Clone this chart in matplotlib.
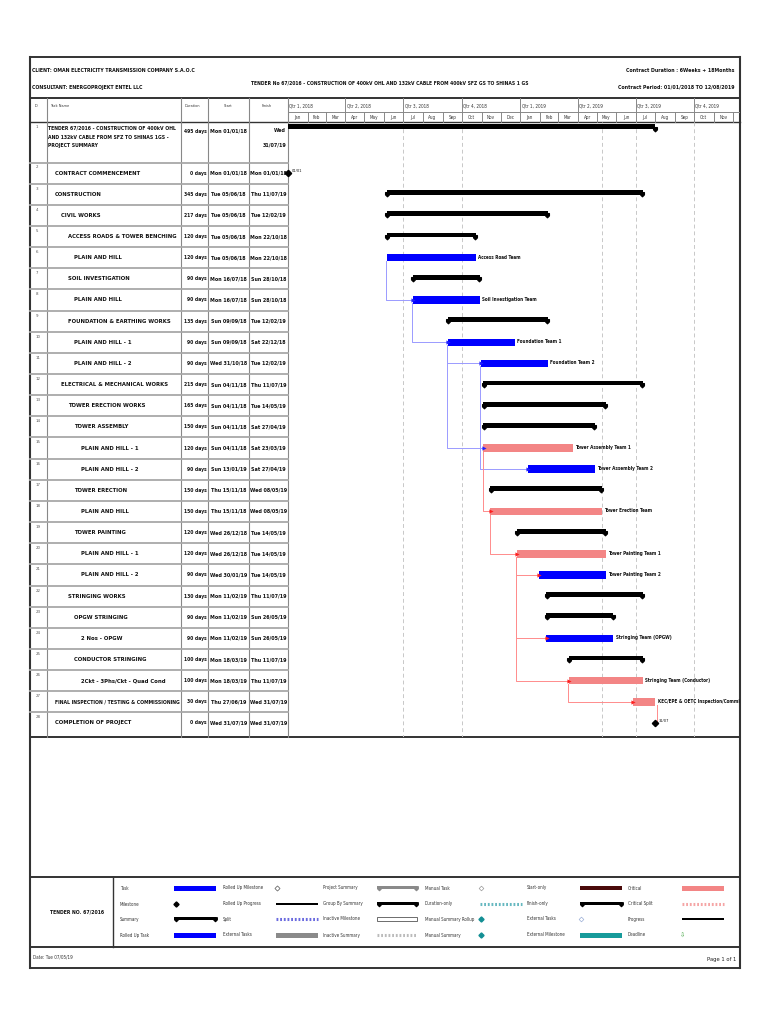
import matplotlib
matplotlib.use('Agg')
import matplotlib.pyplot as plt
import matplotlib.dates as mdates
from matplotlib.patches import Rectangle
from matplotlib.path import Path
from matplotlib import font_manager as fm
from datetime import date, timedelta

# ---- data ----
task_names = [
    "TENDER 67/2016 - CONSTRUCTION OF 400kV OHL\nAND 132kV CABLE FROM SFZ TO SHINAS 1GS -\nPROJECT SUMMARY",
    "CONTRACT COMMENCEMENT", "CONSTRUCTION", "CIVIL WORKS",
    "ACCESS ROADS & TOWER BENCHING", "PLAIN AND HILL", "SOIL INVESTIGATION",
    "PLAIN AND HILL", "FOUNDATION & EARTHING WORKS", "PLAIN AND HILL - 1",
    "PLAIN AND HILL - 2", "ELECTRICAL & MECHANICAL WORKS", "TOWER ERECTION WORKS",
    "TOWER ASSEMBLY", "PLAIN AND HILL - 1", "PLAIN AND HILL - 2", "TOWER ERECTION",
    "PLAIN AND HILL", "TOWER PAINTING", "PLAIN AND HILL - 1", "PLAIN AND HILL - 2",
    "STRINGING WORKS", "OPGW STRINGING", "2 Nos - OPGW", "CONDUCTOR STRINGING",
    "2Ckt - 3Phs/Ckt - Quad Cond", "FINAL INSPECTION / TESTING & COMMISSIONING",
    "COMPLETION OF PROJECT",
]
outline_level = [0, 1, 1, 2, 3, 4, 3, 4, 3, 4, 4, 2, 3, 4, 5, 5, 4, 5, 4, 5, 5, 3, 4, 5, 4, 5, 1, 1]
durations = ["495 days", "0 days", "345 days", "217 days", "120 days", "120 days", "90 days",
             "90 days", "135 days", "90 days", "90 days", "215 days", "165 days", "150 days",
             "120 days", "90 days", "150 days", "150 days", "120 days", "120 days", "90 days",
             "130 days", "90 days", "90 days", "100 days", "100 days", "30 days", "0 days"]
start_dates = ["2018-01-01", "2018-01-01", "2018-06-05", "2018-06-05", "2018-06-05", "2018-06-05",
               "2018-07-16", "2018-07-16", "2018-09-09", "2018-09-09", "2018-10-31", "2018-11-04",
               "2018-11-04", "2018-11-04", "2018-11-04", "2019-01-13", "2018-11-15", "2018-11-15",
               "2018-12-26", "2018-12-26", "2019-01-30", "2019-02-11", "2019-02-11", "2019-02-11",
               "2019-03-18", "2019-03-18", "2019-06-27", "2019-07-31"]
finish_dates = ["2019-07-31", "2018-01-01", "2019-07-11", "2019-02-12", "2018-10-22", "2018-10-22",
                "2018-10-28", "2018-10-28", "2019-02-12", "2018-12-22", "2019-02-12", "2019-07-11",
                "2019-05-14", "2019-04-27", "2019-03-23", "2019-04-27", "2019-05-08", "2019-05-08",
                "2019-05-14", "2019-05-14", "2019-05-14", "2019-07-11", "2019-05-26", "2019-05-26",
                "2019-07-11", "2019-07-11", "2019-07-31", "2019-07-31"]
bar_kind = ["project", "milestone", "summary", "summary", "summary", "task", "summary", "task",
            "summary", "task", "task", "summary", "summary", "summary", "critical", "task",
            "summary", "critical", "summary", "critical", "task", "summary", "summary", "task",
            "summary", "critical", "critical", "milestone"]
resources = {6: "Access Road Team", 8: "Soil Investigation Team", 10: "Foundation Team 1",
             11: "Foundation Team 2", 15: "Tower Assembly Team 1", 16: "Tower Assembly Team 2",
             18: "Tower Erection Team", 20: "Tower Painting Team 1", 21: "Tower Painting Team 2",
             24: "Stringing Team (OPGW)", 26: "Stringing Team (Conductor)",
             27: "KEC/EPE & OETC Inspection/Commissioning"}
milestone_labels = {2: "01/01", 28: "31/07"}
# (predecessor, successor, critical)
links = [(6, 8, False), (8, 10, False), (10, 11, False), (10, 15, False), (11, 16, False),
         (15, 18, True), (18, 20, True), (20, 21, True), (20, 24, True), (20, 26, True),
         (26, 27, True), (27, 28, True)]
grid_dates = ["2018-07-01", "2018-10-01", "2019-05-10", "2019-07-01", "2019-10-01"]
view_start, view_end = "2018-01-01", "2019-12-12"

title_text = "TENDER No 67/2016 - CONSTRUCTION OF 400kV OHL AND 132kV CABLE FROM 400kV SFZ GS TO SHINAS 1 GS"
legend_items = [
    ["Task", "Milestone", "Summary", "Rolled Up Task"],
    ["Rolled Up Milestone", "Rolled Up Progress", "Split", "External Tasks"],
    ["Project Summary", "Group By Summary", "Inactive Milestone", "Inactive Summary"],
    ["Manual Task", "Duration-only", "Manual Summary Rollup", "Manual Summary"],
    ["Start-only", "Finish-only", "External Tasks", "External Milestone"],
    ["Critical", "Critical Split", "Progress", "Deadline"],
]


def d(s):
    return date.fromisoformat(s)


# pick a narrow face if one is installed
def pick_font(bold):
    for f in fm.fontManager.ttflist:
        w = fm.weight_dict.get(f.weight, f.weight) if isinstance(f.weight, str) else f.weight
        narrow = ('Narrow' in f.name or 'Condensed' in f.name
                  or f.stretch in ('condensed', 'semi-condensed', 'extra-condensed'))
        if narrow and f.style == 'normal' and ((w >= 600) == bold):
            return fm.FontProperties(fname=f.fname)
    return fm.FontProperties(family='Liberation Sans', weight='bold' if bold else 'normal')


FB = pick_font(True)
FR = pick_font(False)

BLUE = '#0000ff'
CRIT = '#f38585'
FRAME = '#333333'
INK = '#111111'

fig = plt.figure(figsize=(7.68, 10.24), dpi=100)
ax = fig.add_axes([0, 0, 1, 1])
ax.set_xlim(0, 768)
ax.set_ylim(1024, 0)
ax.axis('off')
renderer = fig.canvas.get_renderer()


def fit(s, target_px, fp):
    t = ax.text(0, 0, s, fontproperties=fp, fontsize=10)
    w = t.get_window_extent(renderer).width
    t.remove()
    return 10 * target_px / w


S_HEAD = fit("CLIENT: OMAN ELECTRICITY TRANSMISSION COMPANY S.A.O.C", 166, FB)
S_TITLE = fit(title_text, 275, FB)
S_NAME = fit("ACCESS ROADS & TOWER BENCHING", 108, FB)
S_NAME1 = fit("TENDER 67/2016 - CONSTRUCTION OF 400kV OHL", 128, FB)
S_DUR = fit("345 days", 23, FB)
S_DATE = fit("Mon 01/01/18", 37, FB)
S_RES = fit("Access Road Team", 43, FB)
S_SCALE = fit("Qtr 1, 2018", 24, FR)
S_COLH = fit("Task Name", 19, FR)
S_LEG = fit("Rolled Up Milestone", 40, FR)
S_TNO = fit("TENDER NO. 67/2016", 54, FB)

L, R, T, B = 30, 740, 57, 968
HDR_B, COL_B, TBL_B = 98, 122, 737
LEG_T, LEG_B = 877, 947
cols = [47, 181, 208, 249, 288]

# row geometry (pixel)
row_top = [122] + [162.5 + (k - 2) * 21.15 for k in range(2, 29)]
row_bot = [162.5] + [162.5 + (k - 1) * 21.15 for k in range(2, 29)]
row_mid = [(a + b) / 2 for a, b in zip(row_top, row_bot)]

# ---- frame ----
for y in [T, HDR_B, COL_B, TBL_B, LEG_T, LEG_B, B]:
    ax.plot([L, R], [y, y], color=FRAME, lw=1.0 if y == COL_B else 1.4)
ax.plot([L, L], [T, B], color=FRAME, lw=1.5)
ax.plot([R, R], [T, B], color=FRAME, lw=1.5)
for x in cols:
    ax.plot([x, x], [HDR_B, TBL_B], color='#888888', lw=0.8)
ax.plot([113, 113], [LEG_T, LEG_B], color=FRAME, lw=1.0)
for yb in row_bot[:-1]:
    ax.plot([L, 288], [yb, yb], color='#a8a8a8', lw=1.3)

# ---- header ----
ax.text(32, 70, "CLIENT: OMAN ELECTRICITY TRANSMISSION COMPANY S.A.O.C", fontproperties=FB,
        fontsize=S_HEAD, va='center', color=INK)
ax.text(32, 87, "CONSULTANT: ENERGOPROJEKT ENTEL LLC", fontproperties=FB, fontsize=S_HEAD,
        va='center', color=INK)
ax.text(390, 83, title_text, fontproperties=FB, fontsize=S_TITLE, ha='center', va='center', color=INK)
ax.text(734, 70, "Contract Duration : 6Weeks + 18Months", fontproperties=FB, fontsize=S_HEAD,
        ha='right', va='center', color=INK)
ax.text(734, 87, "Contract Period: 01/01/2018 TO 12/08/2019", fontproperties=FB, fontsize=S_HEAD,
        ha='right', va='center', color=INK)

sm = dict(fontproperties=FR, fontsize=S_COLH, color='#333333', va='center')
ax.text(35, 106, "ID", **sm)
ax.text(50, 106, "Task Name", **sm)
ax.text(185, 106, "Duration", **sm)
ax.text(228, 106, "Start", ha='center', **sm)
ax.text(262, 106, "Finish", **sm)

# ---- table ----
tb = dict(fontproperties=FB, color=INK)
for i, name in enumerate(task_names):
    ax.text(36, row_top[i] + 5, str(i + 1), fontproperties=FR, fontsize=3.2, color='#555555', va='center')
    s, f = d(start_dates[i]), d(finish_dates[i])
    x0 = 48 + 6.6 * outline_level[i]
    if i == 0:
        ax.text(x0, 126, name, va='top', linespacing=1.9, fontsize=S_NAME1, **tb)
        ax.text(206.5, 131, durations[i], ha='right', va='center', fontsize=S_DUR, **tb)
        ax.text(228.5, 131, s.strftime('%a %d/%m/%y'), ha='center', va='center', fontsize=S_DATE, **tb)
        ax.text(286, 131, f.strftime('%a'), ha='right', va='center', fontsize=S_DATE, **tb)
        ax.text(286, 145, f.strftime('%d/%m/%y'), ha='right', va='center', fontsize=S_DATE, **tb)
        continue
    size = min(S_NAME, fit(name, 180 - x0, FB))
    ax.text(x0, row_mid[i], name, va='center', fontsize=size, **tb)
    ax.text(206.5, row_mid[i], durations[i], ha='right', va='center', fontsize=S_DUR, **tb)
    ax.text(228.5, row_mid[i], s.strftime('%a %d/%m/%y'), ha='center', va='center', fontsize=S_DATE, **tb)
    ax.text(268.5, row_mid[i], f.strftime('%a %d/%m/%y'), ha='center', va='center', fontsize=S_DATE, **tb)

# ---- gantt ----
gx = fig.add_axes([288 / 768, 1 - TBL_B / 1024, (R - 288) / 768, (TBL_B - HDR_B) / 1024])
gx.set_xlim(mdates.date2num(d(view_start)), mdates.date2num(d(view_end)))
gx.set_ylim(TBL_B, HDR_B)
gx.axis('off')
gx.patch.set_alpha(0)

# timescale
gx.plot(gx.get_xlim(), [112, 112], color='#888888', lw=0.7)
m = date(2018, 1, 1)
while m < d(view_end):
    nxt = date(m.year + (m.month == 12), m.month % 12 + 1, 1)
    xm = mdates.date2num(m)
    if m.month in (1, 4, 7, 10):
        gx.plot([xm, xm], [HDR_B, COL_B], color='#888888', lw=0.7)
        gx.text(xm + 2, 106, f"Qtr {(m.month - 1) // 3 + 1}, {m.year}", fontproperties=FR,
                fontsize=S_SCALE, color='#333333', va='center')
    else:
        gx.plot([xm, xm], [112, COL_B], color='#888888', lw=0.7)
    if nxt <= d(view_end):
        gx.text(mdates.date2num(m + (nxt - m) / 2), 117.5, m.strftime('%b'), fontproperties=FR,
                fontsize=S_SCALE, color='#333333', ha='center', va='center')
    m = nxt

for g in grid_dates:
    xg = mdates.date2num(d(g))
    gx.plot([xg, xg], [COL_B, TBL_B], color='#c8c8c8', lw=0.7, ls=(0, (4, 3)))

cap = Path([(-1, 1), (1, 1), (1, -0.2), (0, -1.2), (-1, -0.2), (-1, 1)],
           [Path.MOVETO] + [Path.LINETO] * 4 + [Path.CLOSEPOLY])


def xs(i):
    return mdates.date2num(d(start_dates[i]))


def xf(i):
    return mdates.date2num(d(finish_dates[i]) + timedelta(days=1))


# links
for p, s_, crit in links:
    pi, si = p - 1, s_ - 1
    col = '#ff8c8c' if crit else '#9a9aff'
    xv = xf(pi) + 2 if bar_kind[si] == 'milestone' else xs(pi) - 1
    gx.plot([xv, xv, xs(si)], [row_mid[pi] + 3, row_mid[si], row_mid[si]], color=col, lw=0.7, zorder=2)
    if bar_kind[si] != 'milestone':
        gx.plot(xs(si) + 0.5, row_mid[si], marker='>', ms=3, color='#ff2020' if crit else '#2020ff',
                mec='none', zorder=4)

# bars
for i, kind in enumerate(bar_kind):
    y = row_mid[i]
    if kind == 'project':
        gx.barh(126.5, xf(i) - xs(i), left=xs(i), height=5.5, color='black', zorder=3)
        gx.plot(xf(i) - 1, 128.5, marker=cap, ms=3.2, color='black', zorder=3)
    elif kind == 'summary':
        yb = y - 1.5
        gx.barh(yb, xf(i) - xs(i), left=xs(i), height=4.8, color='black', zorder=3)
        gx.plot([xs(i) + 1, xf(i) - 1], [yb + 1.5, yb + 1.5], ls='none', marker=cap, ms=3.2,
                color='black', zorder=3)
    elif kind in ('task', 'critical'):
        gx.barh(y, xf(i) - xs(i), left=xs(i), height=7.5, color=BLUE if kind == 'task' else CRIT,
                zorder=3)
        gx.text(xf(i) + 4, y - 0.5, resources[i + 1], fontproperties=FB, fontsize=S_RES,
                color=INK, va='center', clip_on=True, zorder=5)
    elif kind == 'milestone':
        xm = xs(i) if i == 1 else xf(i)
        gx.plot(xm, y, marker='D', ms=3.2, color='black', clip_on=False, zorder=4)
        gx.text(xm + 6, y - 2, milestone_labels[i + 1], fontproperties=FR, fontsize=S_SCALE * 0.85,
                color=INK, va='center', zorder=5)

# ---- legend ----
ax.text(77, 912, "TENDER NO. 67/2016", fontproperties=FB, fontsize=S_TNO,
        ha='center', va='center', color=INK)
leg_x = [120, 223, 323, 425, 527, 628]
sym_x = [174, 276, 377, 480, 580, 682]
leg_y = [888, 904, 919, 935]
for c, labels in enumerate(legend_items):
    for r, lab in enumerate(labels):
        ax.text(leg_x[c], leg_y[r], lab, fontproperties=FR, fontsize=S_LEG, color='#333333', va='center')


def bar_sym(x, y, color, h=5, w=42, ec='none'):
    ax.add_patch(Rectangle((x, y - h / 2), w, h, facecolor=color, edgecolor=ec, lw=0.6))


def summary_sym(x, y, color, w=42):
    ax.add_patch(Rectangle((x, y - 2.5), w, 3.5, facecolor=color, edgecolor='none'))
    ax.plot([x + 1.5, x + w - 1.5], [y, y], ls='none', marker=cap, ms=3, color=color)


def dotted_sym(x, y, color, w=42):
    ax.plot([x, x + w], [y, y], color=color, lw=2.2, ls=(0, (0.6, 0.6)))


bar_sym(sym_x[0], leg_y[0], BLUE)
ax.plot(sym_x[0] + 2, leg_y[1], marker='D', ms=2.6, color='black')
summary_sym(sym_x[0], leg_y[2], 'black')
bar_sym(sym_x[0], leg_y[3], BLUE)
ax.plot(sym_x[1] + 1, leg_y[0], marker='D', ms=2.6, mfc='white', mec='#555555', mew=0.5)
bar_sym(sym_x[1], leg_y[1], 'black', h=2.5)
dotted_sym(sym_x[1], leg_y[2], '#6a6adf')
bar_sym(sym_x[1], leg_y[3], '#8a8a8a')
summary_sym(sym_x[2], leg_y[0], '#8a8a8a', w=40)
summary_sym(sym_x[2], leg_y[1], 'black', w=40)
bar_sym(sym_x[2], leg_y[2], 'white', h=4.5, w=40, ec='#555555')
dotted_sym(sym_x[2], leg_y[3], '#bbbbbb', w=40)
ax.plot(sym_x[3] + 1, leg_y[0], marker='D', ms=2.4, mfc='white', mec='#999999', mew=0.5)
dotted_sym(sym_x[3], leg_y[1], '#66b8c0')
ax.plot(sym_x[3] + 1, leg_y[2], marker='D', ms=2.6, color='#138f94')
ax.plot(sym_x[3] + 1, leg_y[3], marker='D', ms=2.6, color='#138f94')
bar_sym(sym_x[4], leg_y[0], '#4a0a0a', h=4.5)
summary_sym(sym_x[4], leg_y[1], 'black')
ax.plot(sym_x[4] + 1, leg_y[2], marker='D', ms=2.4, mfc='white', mec='#9aaed6', mew=0.5)
bar_sym(sym_x[4], leg_y[3], '#179b9b')
bar_sym(sym_x[5], leg_y[0], CRIT)
dotted_sym(sym_x[5], leg_y[1], '#f5a5a5')
bar_sym(sym_x[5], leg_y[2], 'black', h=2.5)
ax.text(sym_x[5] + 1, leg_y[3], "\u21e9", fontsize=4.5, color='#3aa03a', va='center', ha='center')

# ---- footer ----
ax.text(33, 957, "Date: Tue 07/05/19", fontproperties=FR, fontsize=fit("Date: Tue 07/05/19", 40, FR),
        color='#333333', va='center')
ax.text(736, 959, "Page 1 of 1", fontproperties=FR, fontsize=fit("Page 1 of 1", 30, FR),
        color='#222222', ha='right', va='center')

fig.savefig('out.png', dpi=100, facecolor='white')
